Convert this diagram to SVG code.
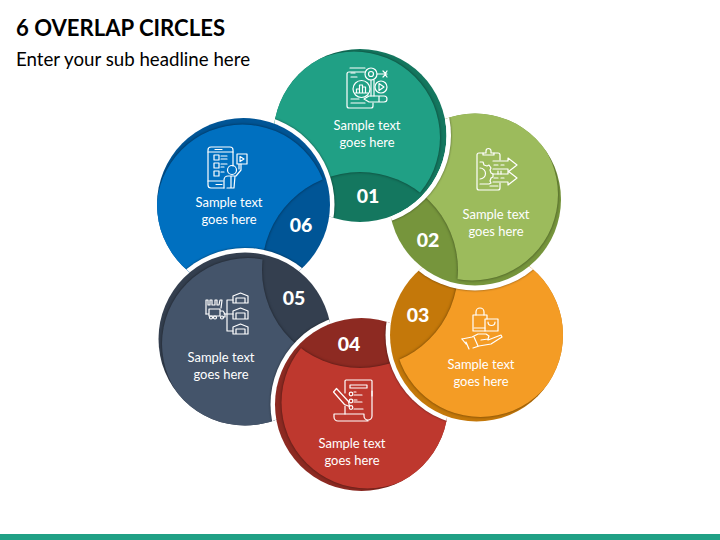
<svg xmlns="http://www.w3.org/2000/svg" width="720" height="540" viewBox="0 0 720 540">
<style>
text{font-family:"Lato","Liberation Sans",sans-serif}
.t{font-size:12.5px;fill:#fff;text-anchor:middle}
.n{font-size:19.500px;font-weight:900;fill:#fff;text-anchor:middle}
.ic{fill:none;stroke:#fff;stroke-width:1.2;stroke-linejoin:round;stroke-linecap:round}
.halo{fill:#fff;filter:url(#hs)}
</style>
<defs>
<filter id="hs" x="-20%" y="-20%" width="140%" height="140%" color-interpolation-filters="sRGB"><feDropShadow dx="0" dy="0" stdDeviation="1.3" flood-color="#000" flood-opacity=".5"/></filter>
<filter id="ls" filterUnits="userSpaceOnUse" x="0" y="0" width="720" height="540" color-interpolation-filters="sRGB"><feDropShadow dx="0" dy="0" stdDeviation="1.6" flood-color="#000" flood-opacity=".5"/></filter>
<mask id="hole" maskUnits="userSpaceOnUse" x="0" y="0" width="720" height="540"><rect width="720" height="540" fill="#fff"/><circle cx="360" cy="270" r="98" fill="#000"/></mask>
<mask id="under1" maskUnits="userSpaceOnUse" x="0" y="0" width="720" height="540"><rect width="720" height="540" fill="#fff"/><circle cx="360" cy="135.500" r="86.500" fill="#000"/></mask>
<clipPath id="d1"><circle cx="360" cy="135.5" r="86.5"/></clipPath>
<clipPath id="d2"><circle cx="475" cy="199.5" r="86"/></clipPath>
<clipPath id="d3"><circle cx="476.5" cy="335" r="86.5"/></clipPath>
<clipPath id="d4"><circle cx="361.5" cy="404.5" r="86.5"/></clipPath>
<clipPath id="d5"><circle cx="245" cy="339" r="86.5"/></clipPath>
<clipPath id="d6"><circle cx="243.5" cy="204.5" r="86.5"/></clipPath>
</defs>
<rect width="720" height="540" fill="#fff"/>
<text x="16" y="36" font-size="22" font-weight="700" fill="#000" textLength="209" lengthAdjust="spacingAndGlyphs">6 OVERLAP CIRCLES</text>
<text x="16" y="66" font-size="18.5" fill="#000" textLength="234" lengthAdjust="spacingAndGlyphs">Enter your sub headline here</text>
<rect x="0" y="534" width="720" height="6" fill="#20A085"/>

<g id="node-01">
<circle cx="360" cy="135.5" r="86.5" fill="#14775F"/>
<g clip-path="url(#d1)"><g filter="url(#ls)"><circle cx="354" cy="137.5" r="86" fill="#20A085" mask="url(#hole)"/></g>
<circle class="halo" cx="243.5" cy="204.5" r="91"/></g>
<g class="ic">
<path d="M365 72H349a2 2 0 0 0-2 2v32a2 2 0 0 0 2 2h22a2 2 0 0 0 2-2v-3"/><path d="M350 68h15"/>
<circle cx="371" cy="74" r="6"/><circle cx="371" cy="74" r="2.500"/><path d="M377 74h10M383 71l3 3-3 3M387 71l-2 3 2 3"/>
<circle cx="361.500" cy="89" r="8.500"/><path d="M356.500 93v-4h3v4M359.500 93v-8h3v8M362.500 93v-6h3v6M355 93h13"/>
<circle cx="381" cy="87" r="6"/><path d="M379 83.500l5 3.500-5 3.500z"/>
<path d="M371 80v16M374 80v16"/>
<path d="M364 99l5-3h15a3 3 0 0 1 0 6h-15zM379 96v6"/>
<path d="M351 73h4M351 77h6M351 99h8M351 103h14"/>
</g>
<text class="t" x="367" y="130" textLength="67" lengthAdjust="spacingAndGlyphs">Sample text</text>
<text class="t" x="367" y="147" textLength="55" lengthAdjust="spacingAndGlyphs">goes here</text>
<text class="n" x="368" y="203">01</text>
</g>

<g id="node-06">
<circle cx="243.500" cy="204.500" r="86.500" fill="#005596"/>
<g clip-path="url(#d6)"><g filter="url(#ls)"><circle cx="242.500" cy="210.500" r="86" fill="#0070C0" mask="url(#hole)"/></g>
<circle class="halo" cx="245" cy="339" r="91"/></g>
<g class="ic">
<path d="M233 166V150a3 3 0 0 0-3-3H211a3 3 0 0 0-3 3v35a3 3 0 0 0 3 3h13"/>
<path d="M208 181h15M208 152h25M215 149.500h7"/><path d="M216 184.500h6"/>
<rect x="214" y="155" width="5" height="5"/><rect x="214" y="163" width="5" height="5"/><rect x="214" y="171" width="5" height="5"/>
<path d="M221 156h6M221 159h6M221 164h6M221 167h3M221 172h3"/>
<circle cx="232" cy="170" r="4.500"/>
<path d="M224 188v-8a4 4 0 0 1 4-4h8l5-6v-6M239 164v5M231 176v12M235 176l-1 12h-7"/>
<path d="M237 154h10v10h-10z"/><path d="M240 156.500l4 2.500-4 2.500z"/>
</g>
<text class="t" x="229" y="207" textLength="67" lengthAdjust="spacingAndGlyphs">Sample text</text>
<text class="t" x="229" y="224" textLength="55" lengthAdjust="spacingAndGlyphs">goes here</text>
<text class="n" x="301" y="232">06</text>
</g>

<g id="node-05">
<circle cx="245" cy="339" r="86.500" fill="#343F4F"/>
<g clip-path="url(#d5)"><g filter="url(#ls)"><circle cx="248" cy="344" r="86" fill="#44546A" mask="url(#hole)"/></g>
<circle class="halo" cx="361.500" cy="404.500" r="91"/></g>
<g class="ic">
<path d="M206 314v-14h2v5h2v-5h2v5h3v-5h2v5h2l1-5h2l-1 8"/>
<path d="M206 314h3M209 309h11v7h-11zM220 311h3l2 3v3h-2"/>
<circle cx="211" cy="317.500" r="1.500"/><circle cx="215" cy="317.500" r="1.500"/><circle cx="222" cy="317.500" r="1.500"/>
<path d="M233 300h-6v31h6M224 314h9"/>
<path d="M233 303v-7l7.500-3 7.500 3v7zM236 303v-5h9v5"/>
<path d="M233 319v-8l7.500-3 7.500 3v8zM236 319v-6h9v6"/>
<path d="M233 334v-7l7.500-3 7.500 3v7zM236 334v-5h9v5"/>
</g>
<text class="t" x="221" y="362" textLength="67" lengthAdjust="spacingAndGlyphs">Sample text</text>
<text class="t" x="221" y="379" textLength="55" lengthAdjust="spacingAndGlyphs">goes here</text>
<text class="n" x="294" y="305">05</text>
</g>

<g id="node-04">
<circle cx="361.500" cy="404.500" r="86.500" fill="#8D2A22"/>
<g clip-path="url(#d4)"><g filter="url(#ls)"><circle cx="367.500" cy="402.500" r="86" fill="#BE382E" mask="url(#hole)"/></g>
<circle class="halo" cx="476.500" cy="335" r="91"/></g>
<g class="ic">
<path d="M345 393V381a1 1 0 0 1 1-1h25a1 1 0 0 1 1 1v35a4 4 0 0 1-4 4a4 4 0 0 1-4-4v-2H334v3a4 4 0 0 0 4 4H368"/>
<path d="M345 406v8M372 391v5"/>
<path d="M350 385h17v3h-17z"/>
<circle cx="351" cy="394" r="1.800"/><circle cx="351" cy="401" r="1.800"/><circle cx="351" cy="407.500" r="1.800"/>
<path d="M354 392h2M354 395h8M354 400h3M354 402h8M354 409h9"/>
<path d="M333.500 392l3-3.500 12 13 1 5-5-2z"/>
</g>
<text class="t" x="352" y="448" textLength="67" lengthAdjust="spacingAndGlyphs">Sample text</text>
<text class="t" x="352" y="465" textLength="55" lengthAdjust="spacingAndGlyphs">goes here</text>
<text class="n" x="349" y="351">04</text>
</g>

<g id="node-03">
<circle cx="476.500" cy="335" r="86.500" fill="#C4780A"/>
<g clip-path="url(#d3)"><g filter="url(#ls)"><circle cx="480.500" cy="331" r="86" fill="#F49C25" mask="url(#hole)"/></g>
<circle class="halo" cx="475" cy="199.500" r="91"/></g>
<g class="ic">
<path d="M485 331h-12v-16h14v4"/><path d="M474 328h11"/>
<path d="M476 315v-3a4 4 0 0 1 8 0v3"/>
<path d="M485 319h13v12h-13z"/><path d="M488 322a3.500 3.500 0 0 0 7 0"/>
<path d="M462 339l10-2 6-3 8 0 3 2-1 3-7 1M488 340l13-5 1 2-11 7-12 2-6 2"/>
<path d="M462 339l4 5M466 342l3 7M474 337l4 9"/>
</g>
<text class="t" x="481" y="369" textLength="67" lengthAdjust="spacingAndGlyphs">Sample text</text>
<text class="t" x="481" y="386" textLength="55" lengthAdjust="spacingAndGlyphs">goes here</text>
<text class="n" x="418" y="322">03</text>
</g>

<g id="node-02">
<g mask="url(#under1)">
<circle cx="475" cy="199.500" r="86" fill="#76953C"/>
<g clip-path="url(#d2)"><g filter="url(#ls)"><circle cx="472" cy="194.500" r="86" fill="#9CBB5C" mask="url(#hole)"/></g>
<circle class="halo" cx="360" cy="135.500" r="91"/></g>
</g>
<g class="ic">
<path d="M483 153h-4a2 2 0 0 0-2 2v33a2 2 0 0 0 2 2h19a2 2 0 0 0 2-2v-5M500 160v-5a2 2 0 0 0-2-2h-4"/>
<path d="M483 155v-2h3v-2a2 2 0 0 1 5 0v2h3v2z"/>
<path d="M480 162h3l1 3 3 1 2-1 2 3-1 2 1 3 2 1v3l-2 1-1 3 1 2-2 1h-9"/>
<path d="M480 168a5.500 5.500 0 0 1 0 11"/>
<path d="M493 161h15v-3l9 7-9 7v-3h-15M493 174h15v-3l9 7-9 7v-3h-15"/>
<path d="M494 165h4M501 165h3M494 178h4M501 178h3M490 186h8M498 171v3M501 171v3"/>
</g>
<text class="t" x="496" y="219" textLength="67" lengthAdjust="spacingAndGlyphs">Sample text</text>
<text class="t" x="496" y="236" textLength="55" lengthAdjust="spacingAndGlyphs">goes here</text>
<text class="n" x="428" y="247">02</text>
</g>
</svg>
